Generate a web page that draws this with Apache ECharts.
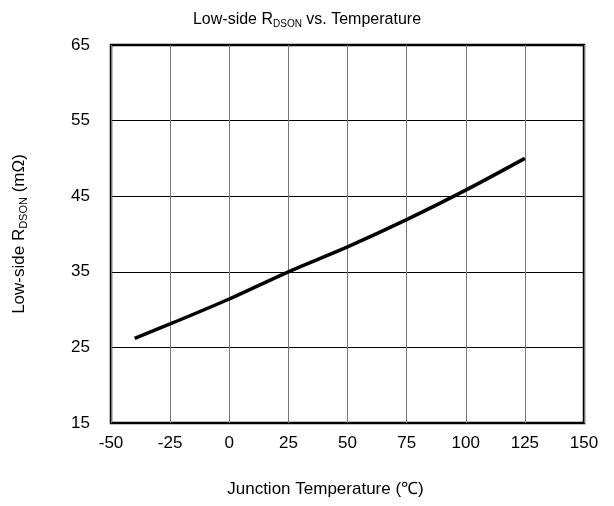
<!DOCTYPE html>
<html>
<head>
<meta charset="utf-8">
<script src="https://cdn.jsdelivr.net/npm/echarts@6/dist/echarts.min.js"></script>
<style>html,body{margin:0;padding:0;background:#fff}#c{width:614px;height:506px}</style>
</head>
<body>
<div id="c"></div>
<script>
const temperatures = [-40, -25, 0, 25, 50, 75, 100, 125];
const rdson = [26.2, 28.1, 31.4, 35.0, 38.3, 41.9, 45.8, 50.0];
const xTicks = [-50, -25, 0, 25, 50, 75, 100, 125, 150];
const yTicks = [15, 25, 35, 45, 55, 65];

const font = 'Liberation Sans, Arial, sans-serif';
const chart = echarts.init(document.getElementById('c'));
chart.setOption({
  animation: false,
  title: {
    text: 'Low-side R{s|DSON} vs. Temperature',
    left: 'center',
    top: 6,
    textStyle: {
      fontFamily: font, fontSize: 16, fontWeight: 'normal', color: '#000',
      rich: { s: { fontFamily: font, fontSize: 10, verticalAlign: 'bottom', padding: [8, 0, 0, 0], color: '#000' } }
    }
  },
  grid: { left: 111, right: 30, top: 45, bottom: 83, show: true, borderColor: '#000', borderWidth: 2.5 },
  xAxis: {
    type: 'value', min: -50, max: 150, interval: 25,
    name: 'Junction Temperature (℃)', nameLocation: 'middle', nameGap: 58,
    nameTextStyle: { fontFamily: font, fontSize: 17, color: '#000', padding: [0, 44, 0, 0] },
    axisLine: { show: false }, axisTick: { show: false },
    axisLabel: { fontFamily: font, fontSize: 17, color: '#000', margin: 12 },
    splitLine: { show: true, lineStyle: { color: '#777', width: 1 } }
  },
  yAxis: {
    type: 'value', min: 15, max: 65, interval: 10,
    name: 'Low-side R{s|DSON} (mΩ)', nameLocation: 'middle', nameGap: 82, nameRotate: 90,
    nameTextStyle: {
      fontFamily: font, fontSize: 17, color: '#000',
      rich: { s: { fontFamily: font, fontSize: 11, verticalAlign: 'bottom', padding: [9, 0, 0, 0], color: '#000' } }
    },
    axisLine: { show: false }, axisTick: { show: false },
    axisLabel: { fontFamily: font, fontSize: 17, color: '#000', margin: 21 },
    splitLine: { show: true, lineStyle: { color: '#000', width: 1 } }
  },
  series: [{
    type: 'line',
    data: temperatures.map((t, i) => [t, rdson[i]]),
    smooth: 0.3,
    showSymbol: false,
    lineStyle: { color: '#000', width: 3.5 }
  }]
});
</script>
</body>
</html>
